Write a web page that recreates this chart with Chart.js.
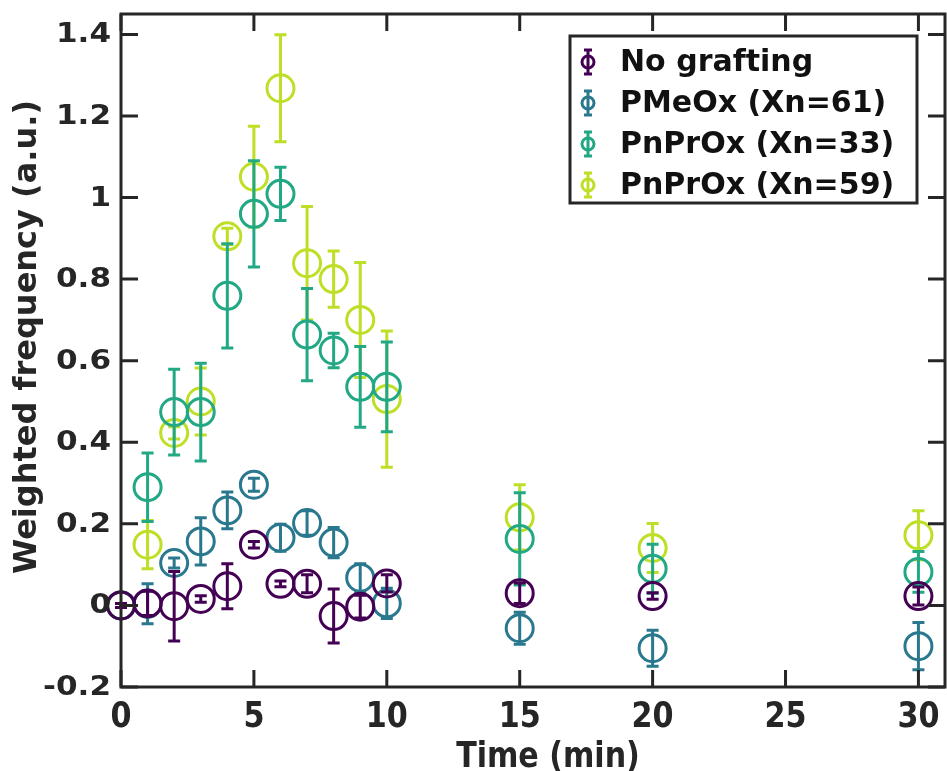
<!DOCTYPE html>
<html>
<head>
<meta charset="utf-8">
<script src="https://cdn.jsdelivr.net/npm/chart.js@4.4.1/dist/chart.umd.min.js"></script>
<style>
  html, body { margin: 0; padding: 0; background: #fff; }
  canvas { display: block; }
</style>
</head>
<body>
<canvas id="chart" width="947" height="771"></canvas>
<script>
// sampling times (min)
const times = [0, 1, 2, 3, 4, 5, 6, 7, 8, 9, 10, 15, 20, 30];

const noGraft      = [0, 0.005, -0.002, 0.016, 0.047, 0.149, 0.053, 0.053, -0.026, -0.003, 0.054, 0.030, 0.023, 0.023];
const noGraftErr   = [0.005, 0.030, 0.085, 0.008, 0.055, 0.008, 0.007, 0.022, 0.066, 0.028, 0.021, 0.025, 0.008, 0.022];

const pmeox61      = [0, 0.004, 0.104, 0.157, 0.233, 0.296, 0.166, 0.202, 0.154, 0.068, 0.005, -0.056, -0.105, -0.100];
const pmeox61Err   = [0.005, 0.049, 0.012, 0.058, 0.045, 0.016, 0.033, 0.030, 0.037, 0.034, 0.037, 0.039, 0.044, 0.058];

const pnprox33     = [0, 0.290, 0.474, 0.474, 0.759, 0.960, 1.009, 0.664, 0.625, 0.536, 0.536, 0.163, 0.090, 0.082];
const pnprox33Err  = [0.005, 0.084, 0.105, 0.120, 0.128, 0.130, 0.065, 0.113, 0.042, 0.099, 0.110, 0.113, 0.060, 0.050];

const pnprox59     = [0, 0.149, 0.423, 0.500, 0.905, 1.051, 1.268, 0.839, 0.800, 0.700, 0.506, 0.216, 0.141, 0.172];
const pnprox59Err  = [0.005, 0.059, 0.015, 0.082, 0.020, 0.124, 0.131, 0.139, 0.069, 0.141, 0.167, 0.080, 0.060, 0.060];

const seriesNames  = ['No grafting', 'PMeOx (Xn=61)', 'PnPrOx (Xn=33)', 'PnPrOx (Xn=59)'];

const xTicks = [0, 5, 10, 15, 20, 25, 30];
const xTickLabels = ['0', '5', '10', '15', '20', '25', '30'];
const yTicks = [-0.2, 0, 0.2, 0.4, 0.6, 0.8, 1, 1.2, 1.4];
const yTickLabels = ['-0.2', '0', '0.2', '0.4', '0.6', '0.8', '1', '1.2', '1.4'];

const colors = ['#440154', '#2a788e', '#22a884', '#bddf26'];
const AXIS = '#262626';
const FONT = '"DejaVu Sans", sans-serif';

function makeSet(i, vals, errs) {
  return {
    label: seriesNames[i],
    data: times.map((t, k) => ({ x: t, y: vals[k] })),
    errors: errs,
    borderColor: colors[i],
    backgroundColor: 'rgba(0,0,0,0)',
    pointRadius: 13.5,
    pointBorderWidth: 3,
    pointHoverRadius: 13.5,
    showLine: false,
    clip: false
  };
}

// vertical error bars, drawn right after each dataset so stacking follows draw order
const errorBars = {
  id: 'errorBars',
  afterDatasetDraw(chart, args) {
    const ds = chart.data.datasets[args.index];
    const y = chart.scales.y;
    const ctx = chart.ctx;
    ctx.save();
    ctx.strokeStyle = ds.borderColor;
    ctx.lineWidth = 3;
    args.meta.data.forEach((pt, i) => {
      const v = ds.data[i].y, e = ds.errors[i];
      const top = y.getPixelForValue(v + e);
      const bot = y.getPixelForValue(v - e);
      ctx.beginPath();
      ctx.moveTo(pt.x, top); ctx.lineTo(pt.x, bot);
      ctx.moveTo(pt.x - 6, top); ctx.lineTo(pt.x + 6, top);
      ctx.moveTo(pt.x - 6, bot); ctx.lineTo(pt.x + 6, bot);
      ctx.stroke();
    });
    ctx.restore();
  }
};

function stretchText(ctx, txt, x, y, sx, align) {
  ctx.save();
  ctx.translate(x, y);
  ctx.scale(sx, 1);
  ctx.textAlign = align;
  ctx.fillText(txt, 0, 0);
  ctx.restore();
}

// box, inward ticks, tick labels, titles and legend
const frame = {
  id: 'frame',
  afterDraw(chart) {
    const { ctx, chartArea: a, scales } = chart;
    ctx.save();
    ctx.strokeStyle = AXIS;
    ctx.lineWidth = 3;
    ctx.beginPath();
    xTicks.forEach(v => {
      const px = scales.x.getPixelForValue(v);
      ctx.moveTo(px, a.bottom); ctx.lineTo(px, a.bottom - 17);
      ctx.moveTo(px, a.top); ctx.lineTo(px, a.top + 17);
    });
    yTicks.forEach(v => {
      const py = scales.y.getPixelForValue(v);
      ctx.moveTo(a.left, py); ctx.lineTo(a.left + 17, py);
      ctx.moveTo(a.right, py); ctx.lineTo(a.right - 17, py);
    });
    ctx.stroke();
    ctx.strokeRect(a.left, a.top, a.right - a.left, a.bottom - a.top);

    ctx.fillStyle = AXIS;
    ctx.textBaseline = 'middle';
    ctx.font = 'bold 27px ' + FONT;
    yTicks.forEach((v, i) => {
      stretchText(ctx, yTickLabels[i], 111, scales.y.getPixelForValue(v) + 1, 1.15, 'right');
    });
    ctx.font = 'bold 36px ' + FONT;
    xTicks.forEach((v, i) => {
      stretchText(ctx, xTickLabels[i], scales.x.getPixelForValue(v), 718, 0.84, 'center');
    });
    ctx.font = 'bold 35px ' + FONT;
    stretchText(ctx, 'Time (min)', 548, 758, 0.86, 'center');

    ctx.font = 'bold 32px ' + FONT;
    ctx.save();
    ctx.translate(28, 337);
    ctx.rotate(-Math.PI / 2);
    ctx.textAlign = 'center';
    ctx.fillText('Weighted frequency (a.u.)', 0, 0);
    ctx.restore();

    // legend
    const lx = 570, ly = 36, lw = 347, lh = 167;
    ctx.fillStyle = '#fff';
    ctx.fillRect(lx, ly, lw, lh);
    ctx.strokeStyle = AXIS;
    ctx.lineWidth = 3;
    ctx.strokeRect(lx, ly, lw, lh);
    ctx.font = 'bold 30px ' + FONT;
    ctx.textAlign = 'left';
    seriesNames.forEach((name, i) => {
      const cy = 62 + i * 41;
      ctx.strokeStyle = colors[i];
      ctx.lineWidth = 3;
      ctx.beginPath();
      ctx.moveTo(588, cy - 12); ctx.lineTo(588, cy + 12);
      ctx.moveTo(584, cy - 12); ctx.lineTo(592, cy - 12);
      ctx.moveTo(584, cy + 12); ctx.lineTo(592, cy + 12);
      ctx.stroke();
      ctx.beginPath();
      ctx.arc(588, cy, 6, 0, Math.PI * 2);
      ctx.stroke();
      ctx.fillStyle = '#111';
      ctx.fillText(name, 620, cy + 1);
    });
    ctx.restore();
  }
};

const config = {
  type: 'scatter',
  data: {
    datasets: [
      makeSet(0, noGraft, noGraftErr),
      makeSet(1, pmeox61, pmeox61Err),
      makeSet(2, pnprox33, pnprox33Err),
      makeSet(3, pnprox59, pnprox59Err)
    ]
  },
  options: {
    responsive: false,
    animation: false,
    layout: { autoPadding: false, padding: { top: 14, right: 2, left: 0, bottom: 0 } },
    plugins: { legend: { display: false }, tooltip: { enabled: false } },
    scales: {
      x: {
        type: 'linear', min: 0, max: 31,
        ticks: { display: false },
        grid: { display: false },
        border: { display: false },
        afterBuildTicks: s => { s.ticks = xTicks.map(v => ({ value: v })); },
        afterFit: s => { s.height = 84; }
      },
      y: {
        type: 'linear', min: -0.2, max: 1.45,
        ticks: { display: false },
        grid: { display: false },
        border: { display: false },
        afterBuildTicks: s => { s.ticks = yTicks.map(v => ({ value: v })); },
        afterFit: s => { s.width = 121; }
      }
    }
  },
  plugins: [errorBars, frame]
};

const myChart = new Chart(document.getElementById('chart'), config);
</script>
</body>
</html>
